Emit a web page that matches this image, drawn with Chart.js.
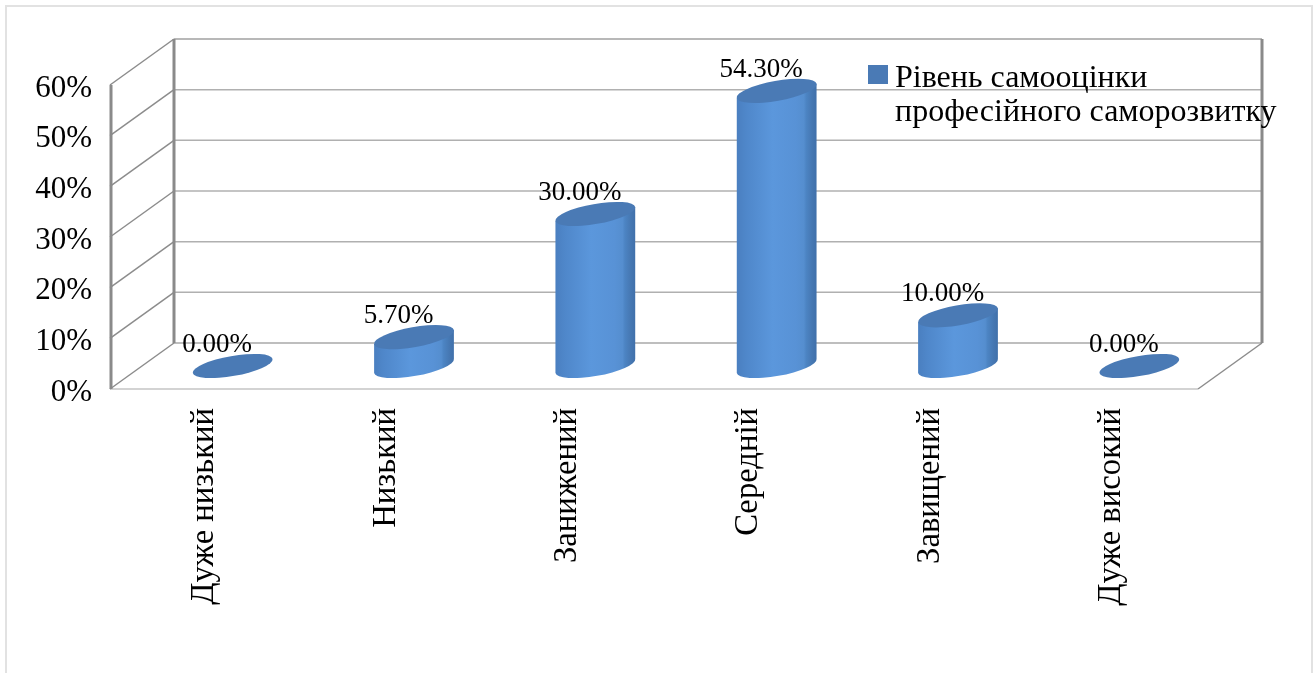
<!DOCTYPE html>
<html>
<head>
<meta charset="utf-8">
<script src="https://cdn.jsdelivr.net/npm/chart.js@4"></script>
<style>
  html, body { margin: 0; background: #fff; overflow: hidden; }
  #wrap { position: relative; width: 1315px; height: 673px; }
  #wrap::before {
    content: ""; position: absolute; left: 5px; top: 5px; right: 2px; bottom: -10px;
    border: 2px solid #e2e2e2;
  }
  canvas { position: absolute; left: 0; top: 0; }
</style>
</head>
<body>
<div id="wrap"><canvas id="chart" width="1315" height="673"></canvas></div>
<script>
const categories = ["Дуже низький", "Низький", "Занижений", "Середній", "Завищений", "Дуже високий"];
const values = [0, 5.7, 30, 54.3, 10, 0];
const seriesLabel = ["Рівень самооцінки", "професійного саморозвитку"];
const yTicks = [0, 10, 20, 30, 40, 50, 60];

const FONT = '"Liberation Serif", "Times New Roman", serif';
const BLUE = "#4a7ab5";
// offset of the back wall from the front plane
const DEPTH_X = 64;
const DEPTH_Y = 46;

function line(ctx, x1, y1, x2, y2, color, width) {
  ctx.beginPath();
  ctx.moveTo(x1, y1);
  ctx.lineTo(x2, y2);
  ctx.strokeStyle = color;
  ctx.lineWidth = width;
  ctx.stroke();
}

// back wall, side wall and floor
const frame3d = {
  id: "frame3d",
  beforeDatasetsDraw(chart) {
    const { ctx, chartArea: a, scales } = chart;
    const y = scales.y;
    const backL = a.left + DEPTH_X;
    const backR = a.right + DEPTH_X;
    ctx.save();
    yTicks.forEach((t) => {
      const py = y.getPixelForValue(t);
      if (t > 0) {
        line(ctx, backL, py - DEPTH_Y, backR, py - DEPTH_Y, t === 60 ? "#a0a0a0" : "#b0b0b0", 1.5);
      } else {
        line(ctx, backL, py - DEPTH_Y, backR, py - DEPTH_Y, "#a8a8a8", 1.5);
        line(ctx, a.left, py, a.right, py, "#c4c4c4", 1.5);
      }
      line(ctx, a.left, py, backL, py - DEPTH_Y, "#8c8c8c", 1.5);
    });
    const top = y.getPixelForValue(60);
    const bottom = y.getPixelForValue(0);
    line(ctx, a.left + 1, top, a.left + 1, bottom, "#8a8a8a", 3);
    line(ctx, backL, top - DEPTH_Y, backL, bottom - DEPTH_Y, "#8a8a8a", 3);
    line(ctx, backR, top - DEPTH_Y, backR, bottom - DEPTH_Y, "#8a8a8a", 3);
    line(ctx, a.right, bottom, backR, bottom - DEPTH_Y, "#8c8c8c", 1.5);
    ctx.restore();
  },
};

// bars are drawn as cylinders standing halfway into the floor
const cylinders = {
  id: "cylinders",
  beforeDatasetDraw(chart, args) {
    const { ctx } = chart;
    const rx = 40.5;
    const ry = 10;
    const tilt = -10 * Math.PI / 180;
    const dx = Math.cos(tilt) * rx;
    const dy = Math.sin(tilt) * rx;
    args.meta.data.forEach((bar) => {
      const cx = bar.x + DEPTH_X / 2;
      const topY = bar.y - DEPTH_Y / 2;
      const baseY = bar.base - DEPTH_Y / 2;
      const left = cx - bar.width / 2;
      const right = cx + bar.width / 2;
      ctx.save();
      if (baseY - topY > 0.5) {
        const g = ctx.createLinearGradient(left, 0, right, 0);
        g.addColorStop(0, "#4a7fc0");
        g.addColorStop(0.12, "#4f87ca");
        g.addColorStop(0.45, "#5b97dc");
        g.addColorStop(0.74, "#5892d6");
        g.addColorStop(0.84, "#558ecf");
        g.addColorStop(0.87, "#4c84c3");
        g.addColorStop(0.94, "#4678b3");
        g.addColorStop(1, "#4070aa");
        ctx.beginPath();
        ctx.ellipse(cx, baseY, rx, ry, tilt, 0, Math.PI);
        ctx.lineTo(cx - dx, topY - dy);
        ctx.lineTo(cx + dx, topY + dy);
        ctx.closePath();
        ctx.fillStyle = g;
        ctx.fill();
      }
      ctx.beginPath();
      ctx.ellipse(cx, topY, rx, ry, tilt, 0, Math.PI * 2);
      ctx.fillStyle = BLUE;
      ctx.fill();
      ctx.restore();
    });
    return false;
  },
  afterDatasetsDraw(chart) {
    const { ctx } = chart;
    const bars = chart.getDatasetMeta(0).data;
    ctx.save();
    ctx.fillStyle = "#000";
    ctx.font = "27px " + FONT;
    ctx.textAlign = "center";
    ctx.textBaseline = "middle";
    bars.forEach((bar, i) => {
      ctx.fillText(values[i].toFixed(2) + "%", bar.x + 16.5, bar.y - DEPTH_Y / 2 - 21);
    });

    // legend box with two-line entry
    ctx.fillStyle = BLUE;
    ctx.fillRect(868, 65, 20, 19);
    ctx.fillStyle = "#000";
    ctx.font = "32px " + FONT;
    ctx.textAlign = "left";
    ctx.textBaseline = "alphabetic";
    seriesLabel.forEach((t, i) => ctx.fillText(t, 895, 87 + i * 34));
    ctx.restore();
  },
};

new Chart(document.getElementById("chart"), {
  type: "bar",
  data: {
    labels: categories,
    datasets: [{ label: seriesLabel.join(" "), data: values, backgroundColor: BLUE, barThickness: 80 }],
  },
  plugins: [frame3d, cylinders],
  options: {
    responsive: false,
    animation: false,
    layout: { padding: { top: 85, right: 117, bottom: 0, left: 0 } },
    plugins: { legend: { display: false }, tooltip: { enabled: false } },
    scales: {
      x: {
        afterFit(scale) { scale.height = 284; },
        grid: { display: false, drawTicks: false },
        border: { display: false },
        ticks: {
          autoSkip: false,
          minRotation: 90,
          maxRotation: 90,
          padding: 19,
          labelOffset: 4,
          color: "#000",
          font: { family: FONT, size: 32.7 },
        },
      },
      y: {
        min: 0,
        max: 60,
        afterFit(scale) { scale.width = 110; },
        afterBuildTicks(scale) { scale.ticks = yTicks.map((v) => ({ value: v })); },
        grid: { display: false, drawTicks: false },
        border: { display: false },
        ticks: {
          padding: 18,
          labelOffset: 3.5,
          color: "#000",
          font: { family: FONT, size: 31 },
          callback: (v) => v + "%",
        },
      },
    },
  },
});
</script>
</body>
</html>
